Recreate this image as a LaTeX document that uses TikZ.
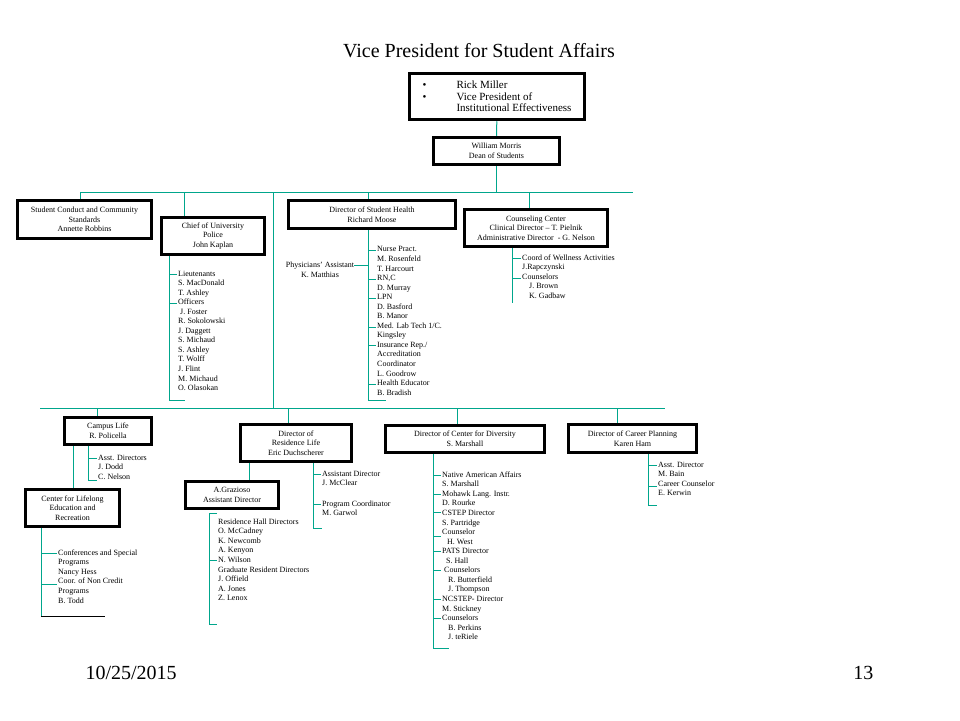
\documentclass[tikz,border=0pt]{standalone}
\usepackage{fontspec}
\setmainfont{Liberation Serif}
\definecolor{orgline}{RGB}{0,166,140}
\newcommand{\orgfont}{\fontsize{8}{9.55}\selectfont}

\begin{document}
\begin{tikzpicture}[x=1pt,y=-1pt,
    box/.style={draw,line width=3.5pt,align=center,inner sep=1pt,font=\orgfont},
    list/.style={anchor=north west,align=left,inner sep=0pt,font=\orgfont},
    link/.style={orgline,line width=1pt}]
  \useasboundingbox (0,0) rectangle (960,720);

  \node[font=\fontsize{20}{24}\selectfont] (title) at (479,51) {Vice President for Student Affairs};

  % boxes
  \node[box,minimum width=175,minimum height=46,align=left,font=\fontsize{11}{11.5}\selectfont] (vp) at (497,96.5)
    {\makebox[34pt][l]{•}Rick Miller\\\makebox[34pt][l]{•}Vice President of\\\hspace*{34pt}Institutional Effectiveness};
  \node[box,minimum width=126,minimum height=27] (dean) at (496.5,151) {William Morris\\Dean of Students};

  \node[box,minimum width=134,minimum height=38] (conduct) at (84.5,219.5) {Student Conduct and Community\\Standards\\Annette Robbins};
  \node[box,minimum width=103,minimum height=37] (police) at (213,236) {Chief of University\\Police\\John Kaplan};
  \node[box,minimum width=167,minimum height=28] (health) at (372,214.5) {Director of Student Health\\Richard Moose};
  \node[box,minimum width=143,minimum height=37] (counsel) at (536,228) {Counseling Center\\Clinical Director – T. Pielnik\\Administrative Director\ \ - G. Nelson};

  \node[box,minimum width=87,minimum height=27] (campus) at (108,431) {Campus Life\\R. Policella};
  \node[box,minimum width=94,minimum height=37] (lifelong) at (72.5,508) {Center for Lifelong\\Education and\\Recreation};
  \node[box,minimum width=111,minimum height=37] (reslife) at (296,443) {Director of\\Residence Life\\Eric Duchscherer};
  \node[box,minimum width=93,minimum height=27] (grazioso) at (232,495) {A.Grazioso\\Assistant Director};
  \node[box,minimum width=159,minimum height=27] (diversity) at (465,439) {Director of Center for Diversity\\S. Marshall};
  \node[box,minimum width=128,minimum height=28] (career) at (632.5,438.5) {Director of Career Planning\\Karen Ham};

  % staff lists
  \node[list] (plist) at (178,270.5) {Lieutenants\\S. MacDonald\\T. Ashley\\Officers\\\hspace*{2pt}J. Foster\\R. Sokolowski\\J. Daggett\\S. Michaud\\S. Ashley\\T. Wolff\\J. Flint\\M. Michaud\\O. Olasokan};
  \node[align=center,inner sep=0pt,font=\orgfont,anchor=north] (pa) at (320,262) {Physicians' Assistant\\K. Matthias};
  \node[list] (hlist) at (377,246.5) {Nurse Pract.\\M. Rosenfeld\\T. Harcourt\\RN,C\\D. Murray\\LPN\\D. Basford\\B. Manor\\Med. Lab Tech 1/C.\\Kingsley\\Insurance Rep./\\Accreditation\\Coordinator\\L. Goodrow\\Health Educator\\B. Bradish};
  \node[list] (clist) at (522,254.5) {Coord of Wellness Activities\\J.Rapczynski\\Counselors\\\hspace*{7pt}J. Brown\\\hspace*{7pt}K. Gadbaw};
  \node[list] (calist) at (98,454.5) {Asst. Directors\\J. Dodd\\C. Nelson};
  \node[list] (llist) at (58,549.5) {Conferences and Special\\Programs\\Nancy Hess\\Coor. of Non Credit\\Programs\\B. Todd};
  \node[list] (rlist) at (322,470.5) {Assistant Director\\J. McClear\\[11pt]Program Coordinator\\M. Garwol};
  \node[list] (glist) at (218,518.5) {Residence Hall Directors\\O. McCadney\\K. Newcomb\\A. Kenyon\\N. Wilson\\Graduate Resident Directors\\J. Offield\\A. Jones\\Z. Lenox};
  \node[list] (dlist) at (442,471.5) {Native American Affairs\\S. Marshall\\Mohawk Lang. Instr.\\D. Rourke\\CSTEP Director\\S. Partridge\\Counselor\\\hspace*{5pt}H. West\\PATS Director\\\hspace*{4pt}S. Hall\\\hspace*{2pt}Counselors\\\hspace*{6pt}R. Butterfield\\\hspace*{6pt}J. Thompson\\NCSTEP- Director\\M. Stickney\\Counselors\\\hspace*{6pt}B. Perkins\\\hspace*{6pt}J. teRiele};
  \node[list] (kclist) at (658,461.5) {Asst. Director\\M. Bain\\Career Counselor\\E. Kerwin};

  \node[font=\fontsize{20}{24}\selectfont,anchor=west] (date) at (82,673) {10/25/2015};
  \node[font=\fontsize{20}{24}\selectfont,anchor=east] (page) at (877,673) {13};

  % bus lines
  \coordinate (tl) at (80,192);
  \coordinate (tr) at (633,192);
  \coordinate (t2) at (184,192);
  \coordinate (t3) at (368,192);
  \coordinate (t4) at (529,192);
  \coordinate (spine) at (273,192);
  \coordinate (bl) at (40,408);
  \coordinate (br) at (665,408);
  \coordinate (b1) at (97,408);
  \coordinate (b2) at (288,408);
  \coordinate (b3) at (457,408);
  \coordinate (b4) at (617,408);

  \draw[link] (vp) -- (dean);
  \draw[link] (dean.south) -- (dean.south |- tl);
  \draw[link] (tl) -- (tr);
  \draw[link] (spine) -- (spine |- bl);
  \draw[link] (bl) -- (br);
  \foreach \t/\n in {tl/conduct,t2/police,t3/health,t4/counsel,b1/campus,b2/reslife,b3/diversity,b4/career}
    \draw[link] (\t) -- (\t |- \n.north);

  % police
  \coordinate (pe) at (169,400);
  \draw[link] (police.south -| pe) -- (pe) -- ++(16,0);
  \foreach \y in {274,303} \draw[link] (pe |- 0,\y) -- ++(8,0);

  % student health
  \coordinate (he) at (368,400);
  \draw[link] (health.south -| he) -- (he) -- ++(18,0);
  \foreach \y in {250,279,298,327,345,384} \draw[link] (he |- 0,\y) -- ++(8,0);
  \coordinate (pat) at ([yshift=-3pt]pa.north east);
  \draw[link] (pat) -- (pat -| he);

  % counseling
  \coordinate (ce) at (512,303);
  \draw[link] (counsel.south -| ce) -- (ce);
  \foreach \y in {258,278} \draw[link] (ce |- 0,\y) -- ++(9,0);

  % campus life
  \coordinate (cae) at (88,480);
  \draw[link] (campus.south -| cae) -- (cae) -- ++(9,0);
  \draw[link] (cae |- 0,458) -- ++(9,0);
  \coordinate (cl) at (73,446);
  \draw[link] (campus.south -| cl) -- (lifelong.north -| cl);

  % lifelong education
  \coordinate (le) at (41,616);
  \draw[link] (lifelong.south -| le) -- (le);
  \draw (le) -- ++(64,0);
  \foreach \y in {553,584} \draw[link] (le |- 0,\y) -- ++(16,0);

  % residence life
  \coordinate (re) at (313,528);
  \draw[link] (reslife.south -| re) -- (re) -- ++(9,0);
  \foreach \y in {474,504} \draw[link] (re |- 0,\y) -- ++(8,0);
  \coordinate (rg) at (249,463);
  \draw[link] (reslife.south -| rg) -- (grazioso.north -| rg);

  % assistant director
  \coordinate (gs) at (209,513);
  \coordinate (ge) at (209,624);
  \draw[link] ([xshift=8pt]gs) -- (gs) -- (ge) -- ++(8,0);
  \draw[link] (ge |- 0,560) -- ++(8,0);

  % diversity
  \coordinate (de) at (433,648);
  \draw[link] (diversity.south -| de) -- (de) -- ++(16,0);
  \foreach \y in {475,494,512,536,551,570,599,618} \draw[link] (de |- 0,\y) -- ++(8,0);

  % career planning
  \coordinate (ke) at (648,505);
  \draw[link] (career.south -| ke) -- (ke) -- ++(9,0);
  \foreach \y in {465,486} \draw[link] (ke |- 0,\y) -- ++(9,0);
\end{tikzpicture}
\end{document}
